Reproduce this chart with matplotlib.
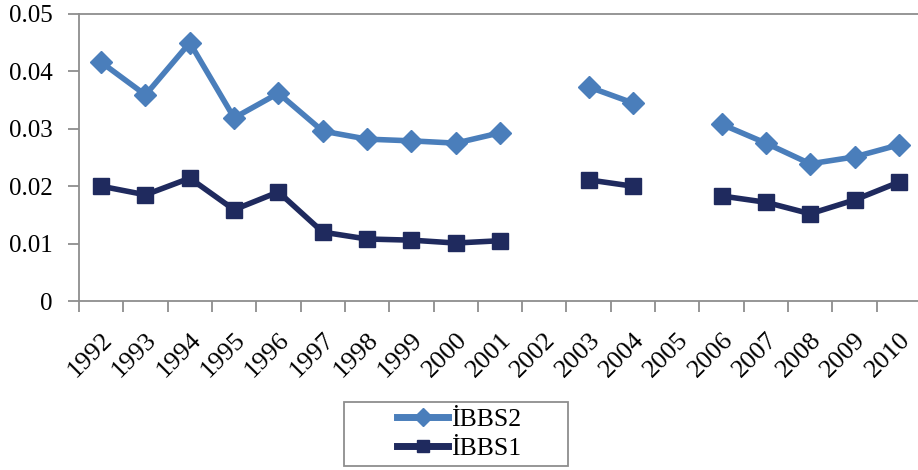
import matplotlib
matplotlib.use("Agg")
import matplotlib.pyplot as plt
from matplotlib.patches import Rectangle
import numpy as np

years = ["1992", "1993", "1994", "1995", "1996", "1997", "1998", "1999", "2000", "2001",
         "2002", "2003", "2004", "2005", "2006", "2007", "2008", "2009", "2010"]
ibbs2 = [0.0416, 0.0359, 0.0450, 0.0319, 0.0362, 0.0296, 0.0282, 0.0279, 0.0275, 0.0293,
         np.nan, 0.0373, 0.0345, np.nan, 0.0308, 0.0275, 0.0239, 0.0251, 0.0272]
ibbs1 = [0.0200, 0.0185, 0.0214, 0.0159, 0.0190, 0.0120, 0.0108, 0.0106, 0.0101, 0.0105,
         np.nan, 0.0211, 0.0200, np.nan, 0.0183, 0.0172, 0.0152, 0.0176, 0.0207]
yticks = [0, 0.01, 0.02, 0.03, 0.04, 0.05]
ytick_labels = ["0", "0.01", "0.02", "0.03", "0.04", "0.05"]

plt.rcParams['font.family'] = ['Liberation Serif', 'DejaVu Serif']

W, H = 918, 470
fig = plt.figure(figsize=(W / 100, H / 100), dpi=100)
ax = fig.add_axes([79 / W, (H - 301) / H, (921 - 79) / W, (301 - 14) / H])

x = np.arange(len(years))
c2 = "#4a7ebb"
c1 = "#1f2a5e"
gray = "#8e8e8e"
ax.plot(x, ibbs2, color=c2, lw=4.0, marker="D", ms=11.5, label="İBBS2", zorder=3)
ax.plot(x, ibbs1, color=c1, lw=4.0, marker="s", ms=12, label="İBBS1", zorder=3)

ax.set_xlim(-0.5, len(years) - 0.5)
ax.set_ylim(0, 0.05)
ax.set_yticks(yticks)
ax.set_yticklabels(ytick_labels, fontsize=18)
ax.set_xticks(x)
ax.set_xticklabels(years, rotation=45, ha="right", va="top", rotation_mode="anchor", fontsize=19)
ax.set_xticks(np.arange(-0.5, len(years)), minor=True)
ax.tick_params(axis="x", which="major", length=0, pad=20)
ax.tick_params(axis="x", which="minor", length=8, color=gray, width=1.3)
ax.tick_params(axis="y", length=8, color=gray, width=1.3, pad=11)

for s in ["left", "bottom", "top"]:
    ax.spines[s].set_color(gray)
    ax.spines[s].set_linewidth(1.3)
ax.spines["right"].set_visible(False)

# legend box
fig.patches.append(Rectangle((344 / W, (H - 466) / H), (568 - 344) / W, (466 - 402) / H,
                             transform=fig.transFigure, fill=False, edgecolor=gray, lw=1.3))
leg = ax.legend(loc="center", bbox_to_anchor=(459 / W, (H - 434) / H), bbox_transform=fig.transFigure,
                fontsize=18.5, frameon=False, handlelength=2.0, borderpad=0.0,
                labelspacing=0.2, handletextpad=0.1)
for h in leg.legend_handles:
    h.set_markersize(9)
    h.set_linewidth(5)

fig.savefig("out.png", dpi=100)
